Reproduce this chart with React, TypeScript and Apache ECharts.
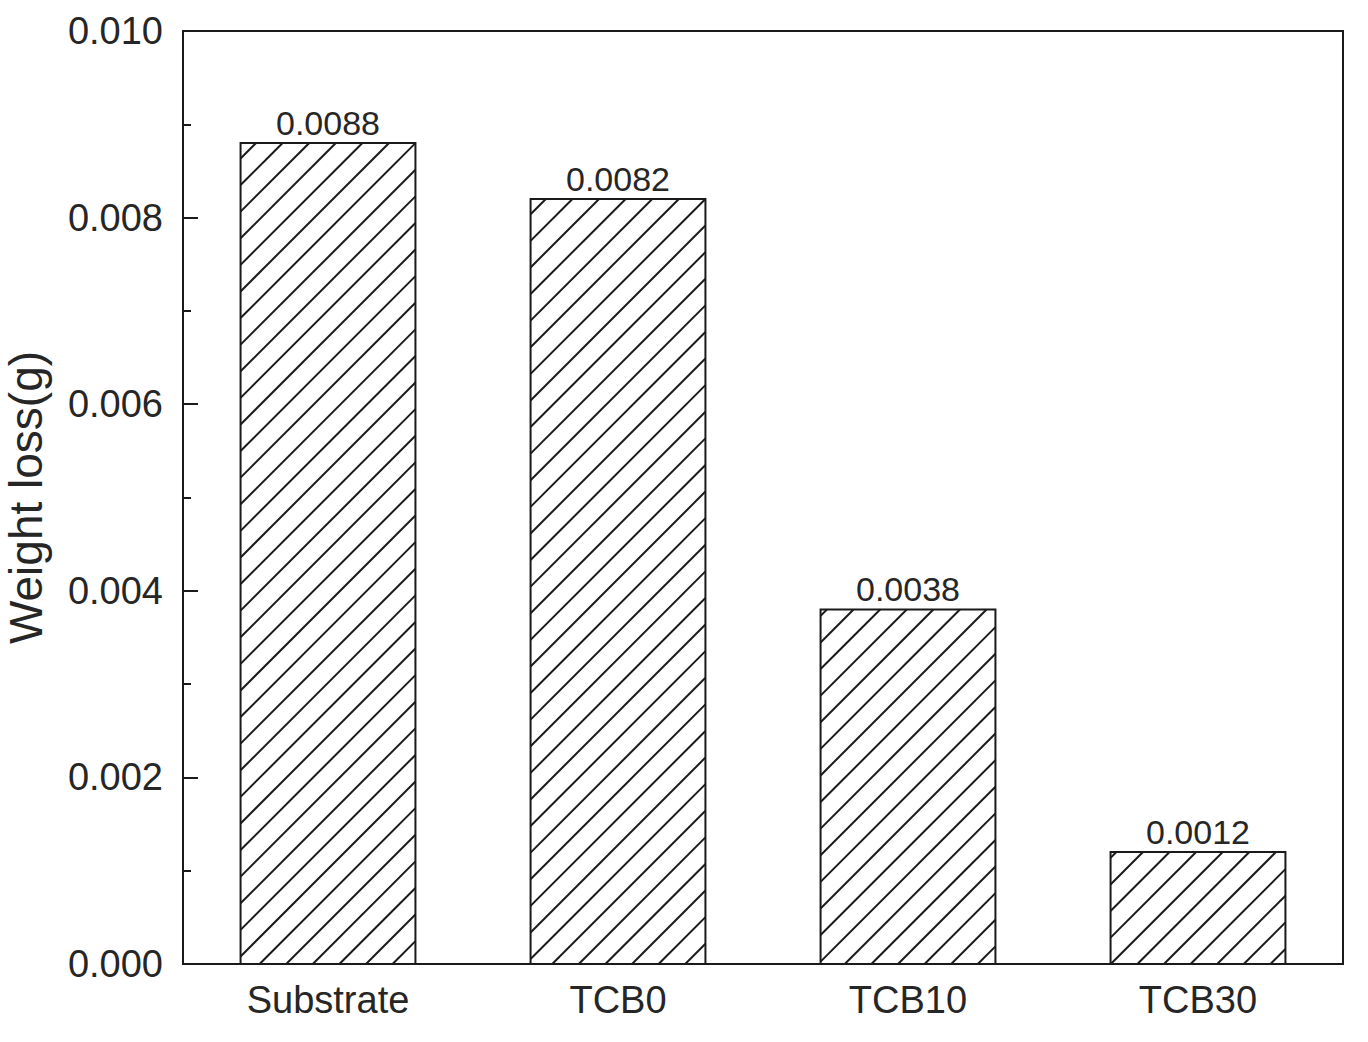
import React, { useEffect, useRef } from "react";
import * as echarts from "echarts";

const categories = ["Substrate", "TCB0", "TCB10", "TCB30"];
const weightLoss = [0.0088, 0.0082, 0.0038, 0.0012];
const labels = ["0.0088", "0.0082", "0.0038", "0.0012"];

const FONT = "'Liberation Sans', Arial, Helvetica, sans-serif";
const INK = "#1a1a1a";
const TEXT = "#262626";

export default function App() {
  const ref = useRef<HTMLDivElement>(null);
  useEffect(() => {
    if (!ref.current) return;
    const chart = echarts.init(ref.current, undefined, { renderer: "svg" });
    const spacing = 26.6;
    chart.setOption({
      animation: false,
      backgroundColor: "#ffffff",
      grid: {
        left: 183,
        top: 31,
        right: 25,
        bottom: 78,
        containLabel: false,
        outerBoundsMode: "none",
        show: true,
        borderColor: INK,
        borderWidth: 2,
        backgroundColor: "transparent",
      },
      xAxis: {
        type: "category",
        data: categories,
        boundaryGap: true,
        axisLine: { show: true, lineStyle: { color: INK, width: 2 } },
        axisTick: { show: false },
        axisLabel: { fontSize: 38, fontFamily: FONT, color: TEXT, margin: 17 },
        splitLine: { show: false },
      },
      yAxis: {
        type: "value",
        min: 0,
        max: 0.01,
        interval: 0.002,
        name: "Weight loss(g)",
        nameLocation: "middle",
        nameGap: 134,
        nameTextStyle: { fontSize: 46, fontFamily: FONT, color: TEXT },
        axisLine: { show: true, lineStyle: { color: INK, width: 2 } },
        axisTick: { show: true, inside: true, length: 15, lineStyle: { color: INK, width: 2 } },
        minorTick: { show: true, splitNumber: 2, length: 8, lineStyle: { color: INK, width: 2 } },
        axisLabel: {
          fontSize: 38,
          fontFamily: FONT,
          color: TEXT,
          margin: 20,
          formatter: (v: number) => v.toFixed(3),
        },
        splitLine: { show: false },
        minorSplitLine: { show: false },
      },
      series: [
        {
          type: "custom",
          data: weightLoss.map((v, i) => [i, v]),
          renderItem: (params: any, api: any) => {
            const idx = api.value(0);
            const val = api.value(1);
            const base = api.coord([idx, 0]);
            const top = api.coord([idx, val]);
            const w = api.size([1, 0])[0] * 0.603;
            const x0 = base[0] - w / 2;
            const x1 = base[0] + w / 2;
            const y0 = top[1];
            const y1 = base[1];
            const children: any[] = [
              {
                type: "rect",
                shape: { x: x0, y: y0, width: x1 - x0, height: y1 - y0 },
                style: { fill: "#ffffff", stroke: "none" },
              },
            ];
            // hatch lines "/" : x + y = k
            const kStart = Math.floor((x0 + y0) / spacing) * spacing;
            for (let k = kStart; k <= x1 + y1 + spacing; k += spacing) {
              const xa = Math.max(x0, k - y1);
              const xb = Math.min(x1, k - y0);
              if (xb - xa > 0.5) {
                children.push({
                  type: "line",
                  shape: { x1: xa, y1: k - xa, x2: xb, y2: k - xb },
                  style: { stroke: INK, lineWidth: 2 },
                });
              }
            }
            children.push({
              type: "rect",
              shape: { x: x0, y: y0, width: x1 - x0, height: y1 - y0 },
              style: { fill: "none", stroke: INK, lineWidth: 2 },
            });
            children.push({
              type: "text",
              x: base[0],
              y: y0 - 3,
              style: {
                text: labels[params.dataIndex],
                fontSize: 34,
                fontFamily: FONT,
                fill: TEXT,
                align: "center",
                verticalAlign: "bottom",
              },
            });
            return { type: "group", children };
          },
        },
      ],
    });
    return () => chart.dispose();
  }, []);
  return (
    <div
      ref={ref}
      style={{ position: "fixed", left: 0, top: 0, width: 1368, height: 1042, background: "#fff" }}
    />
  );
}
